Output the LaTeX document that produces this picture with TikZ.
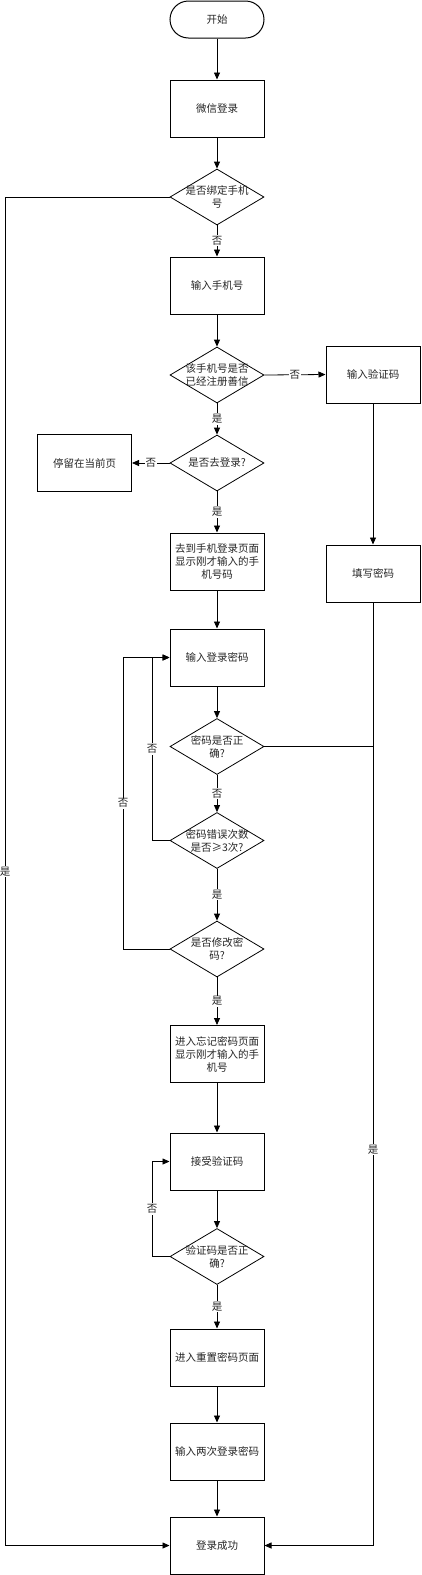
\documentclass[tikz,border=0pt]{standalone}
\usepackage{fontspec}
\newfontfamily\cjk{Noto Sans CJK SC}
\usetikzlibrary{shapes.geometric,arrows.meta}
\begin{document}
\begin{tikzpicture}[x=1pt,y=-1pt,
 every node/.style={font=\cjk\fontsize{10.5}{13}\selectfont, text=black!85},
 box/.style={draw=black, line width=1pt, minimum width=94pt, minimum height=57pt, align=center, inner sep=0pt},
 term/.style={draw=black, line width=1pt, minimum width=94pt, minimum height=37pt, rounded corners=18.5pt},
 dia/.style={draw=black, diamond, aspect=1.68, line width=0.8pt, minimum width=94pt, minimum height=56pt, align=center, inner xsep=-8pt, inner ysep=-3pt},
 arr/.style={line width=0.8pt, -{Triangle[length=7pt,width=6pt]}},
 ln/.style={line width=0.8pt},
 lab/.style={fill=white, inner sep=1pt}
]
\useasboundingbox (0,0) rectangle (421,1575);

\node[term] (start) at (217,19.5) {开始};
\node[box] (wx) at (217,108.5) {微信登录};
\node[dia] (d1) at (217,197) {是否绑定手机\\号};
\node[box] (inp) at (217,285.5) {输入手机号};
\node[dia] (d2) at (217,375) {该手机号是否\\已经注册善信};
\node[box] (yzm) at (373,374.5) {输入验证码};
\node[dia] (d3) at (217,463) {是否去登录?};
\node[box] (stay) at (84.5,463) {停留在当前页};
\node[box] (goto) at (217,561.5) {去到手机登录页面\\显示刚才输入的手\\机号码};
\node[box] (pwd) at (373,573.5) {填写密码};
\node[box] (login) at (217,657.5) {输入登录密码};
\node[dia] (d4) at (217,746.5) {密码是否正\\确?};
\node[dia] (d5) at (217,840.5) {密码错误次数\\是否≥3次?};
\node[dia] (d6) at (217,949) {是否修改密\\码?};
\node[box] (forget) at (217,1054) {进入忘记密码页面\\显示刚才输入的手\\机号};
\node[box] (recv) at (217,1161.5) {接受验证码};
\node[dia] (d7) at (217,1256.5) {验证码是否正\\确?};
\node[box] (reset) at (217,1357.5) {进入重置密码页面};
\node[box] (twice) at (217,1451.5) {输入两次登录密码};
\node[box] (succ) at (217,1545.5) {登录成功};

\coordinate (lx) at (5,0);
\coordinate (ax) at (123,0);
\coordinate (bx) at (152,0);

\draw[arr] (start) -- (wx);
\draw[arr] (wx) -- (d1);
\draw[arr] (d1) -- node[lab] (l1) {否} (inp);
\draw[arr] (d1.west) -- (d1.west -| lx) -- node[lab] (l2) {是} (succ.west -| lx) -- (succ.west);
\draw[arr] (inp) -- (d2);
\draw[arr] (d2.east) -- node[lab] (l3) {否} (yzm.west);
\draw[arr] (d2) -- node[lab] (l4) {是} (d3);
\draw[arr] (d3.west) -- node[lab] (l5) {否} (stay.east);
\draw[arr] (d3) -- node[lab] (l6) {是} (goto);
\draw[arr] (yzm) -- (pwd);
\draw[arr] (pwd.south) |- node[lab, pos=0.29] (l7) {是} (succ.east);
\draw[arr] (goto) -- (login);
\draw[arr] (login) -- (d4);
\draw[ln] (d4.east) -- (d4.east -| pwd.south);
\draw[arr] (d4) -- node[lab] (l8) {否} (d5);
\draw[arr] (d5.west) -- (d5.west -| bx) -- node[lab] (l9) {否} (login.west -| bx) -- (login.west);
\draw[arr] (d5) -- node[lab] (l10) {是} (d6);
\draw[arr] (d6.west) -- (d6.west -| ax) -- node[lab] (l11) {否} (login.west -| ax) -- (login.west);
\draw[arr] (d6) -- node[lab] (l12) {是} (forget);
\draw[arr] (forget) -- (recv);
\draw[arr] (recv) -- (d7);
\draw[arr] (d7.west) -- (d7.west -| bx) -- node[lab] (l13) {否} (recv.west -| bx) -- (recv.west);
\draw[arr] (d7) -- node[lab] (l14) {是} (reset);
\draw[arr] (reset) -- (twice);
\draw[arr] (twice) -- (succ);
\end{tikzpicture}
\end{document}
